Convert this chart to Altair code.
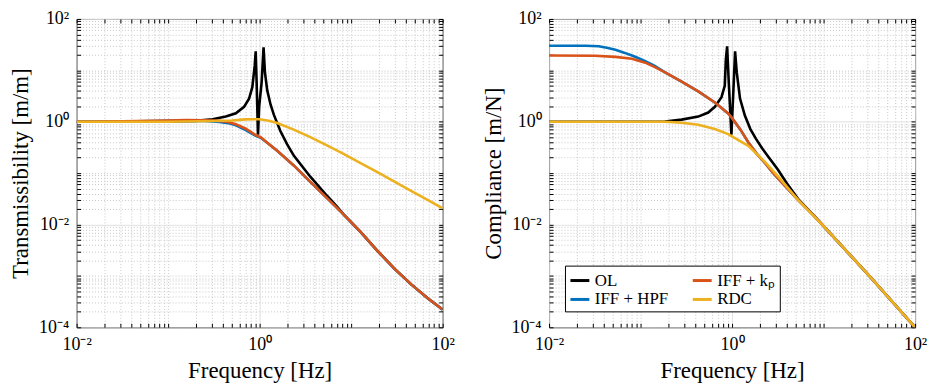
import altair as alt
import pandas as pd

# ---------------- data ----------------
SERIES = ["OL", "IFF + HPF", "IFF + kₚ", "RDC"]          # drawing order
DOMAIN = ["OL", "IFF + HPF", "IFF + kₚ", "RDC"]
COLORS = ["#000000", "#0072BD", "#D95319", "#EDB120"]

# Transmissibility [m/m]
T_OL_F = [0.01, 0.1, 0.2, 0.306, 0.427, 0.55, 0.676, 0.766, 0.832, 0.883, 0.906, 0.927, 0.959, 0.989,
          1.052, 1.104, 1.143, 1.211, 1.318, 1.432, 1.69, 2.0, 2.36, 3.58, 5.445, 7.08, 8.26, 12.59,
          19.82, 30.06, 45.7, 69.2, 100]
T_OL_V = [1.0, 1.01, 1.04, 1.12, 1.26, 1.46, 1.95, 2.8, 4.7, 12.2, 23.4, 5.9, 0.56, 2.0,
          5.9, 28.2, 9.1, 4.07, 2.14, 1.358, 0.653, 0.363, 0.219, 0.0851, 0.0363, 0.0219, 0.0158, 0.00724,
          0.00295, 0.00135, 0.000676, 0.000363, 0.000221]

T_HPF_F = [0.01, 0.0316, 0.1, 0.158, 0.251, 0.363, 0.45, 0.55, 0.705, 0.906, 1.026, 1.259, 1.556, 2.36,
           3.58, 5.445, 8.26, 12.59, 19.82, 30.06, 45.7, 69.2, 100]
T_HPF_V = [1.0, 1.01, 1.04, 1.05, 1.03, 0.99, 0.94, 0.85, 0.69, 0.53, 0.49, 0.37, 0.272, 0.141,
           0.0676, 0.0327, 0.0158, 0.00724, 0.00295, 0.00135, 0.000676, 0.000363, 0.000221]

T_KP_F = [0.01, 0.0316, 0.1, 0.158, 0.251, 0.363, 0.45, 0.55, 0.705, 0.906, 1.026, 1.259, 1.556, 2.36,
          3.58, 5.445, 8.26, 12.59, 19.82, 30.06, 45.7, 69.2, 100]
T_KP_V = [1.0, 1.02, 1.06, 1.08, 1.07, 1.04, 0.99, 0.89, 0.73, 0.55, 0.5, 0.37, 0.272, 0.141,
          0.0676, 0.0327, 0.0158, 0.00724, 0.00295, 0.00135, 0.000676, 0.000363, 0.000221]

T_RDC_F = [0.01, 0.1, 0.316, 0.5, 0.7, 1.0, 1.259, 1.556, 2.36, 3.58, 5.445, 8.26, 12.53, 19.82,
           30.06, 45.7, 69.2, 100]
T_RDC_V = [1.0, 1.0, 1.03, 1.06, 1.11, 1.12, 1.047, 0.942, 0.703, 0.501, 0.347, 0.236, 0.159, 0.102,
           0.0678, 0.0448, 0.0297, 0.0207]

# Compliance [m/N]
C_OL_F = [0.01, 0.1, 0.185, 0.281, 0.427, 0.549, 0.649, 0.766, 0.832, 0.855, 0.883, 0.92, 0.984,
          1.026, 1.079, 1.125, 1.222, 1.38, 1.585, 1.82, 2.138, 2.512, 3.162, 3.981, 5.25, 7.98, 10,
          31.6, 100]
C_OL_V = [1.0, 1.0, 1.01, 1.1, 1.26, 1.51, 1.95, 3.0, 5.0, 16.0, 29.3, 5.9, 0.56,
          3.0, 23.4, 9.1, 2.82, 1.32, 0.72, 0.468, 0.302, 0.204, 0.1175, 0.0631, 0.0316, 0.01445, 0.0093,
          0.001, 0.0001]

C_HPF_F = [0.01, 0.0251, 0.0349, 0.0427, 0.0531, 0.0661, 0.0805, 0.0955, 0.1125, 0.1413, 0.1854,
           0.281, 0.427, 0.649, 0.906, 1.0, 1.23, 1.503, 1.854, 2.286, 2.818, 3.467, 5.25, 7.98, 10,
           31.6, 100]
C_HPF_V = [30.2, 30.06, 29.4, 27.5, 25.1, 22.1, 19.5, 17.2, 15.1, 12.3, 9.12,
           6.03, 3.89, 2.37, 1.45, 1.175, 0.708, 0.398, 0.24, 0.158, 0.1, 0.0668, 0.0302, 0.01445, 0.0093,
           0.001, 0.0001]

C_KP_F = [0.01, 0.0316, 0.0531, 0.0805, 0.1125, 0.1413, 0.1854, 0.281, 0.427, 0.649, 0.906, 1.0,
          1.23, 1.503, 1.854, 2.286, 2.818, 3.467, 5.25, 7.98, 10, 31.6, 100]
C_KP_V = [19.5, 19.3, 18.3, 16.8, 14.1, 11.7, 9.12, 6.03, 3.89, 2.37, 1.45, 1.175,
          0.708, 0.398, 0.24, 0.158, 0.1, 0.0668, 0.0302, 0.01445, 0.0093, 0.001, 0.0001]

C_RDC_F = [0.01, 0.1, 0.185, 0.281, 0.427, 0.649, 0.906, 1.503, 2.286, 3.467, 5.25, 7.98, 10, 31.6, 100]
C_RDC_V = [1.0, 1.0, 1.0, 0.955, 0.871, 0.724, 0.575, 0.339, 0.166, 0.0724, 0.0302, 0.0141, 0.0093,
           0.001, 0.0001]

X_LABELS = {0.01: "10⁻²", 1: "10⁰", 100: "10²"}
Y_LABELS = {0.0001: "10⁻⁴", 0.01: "10⁻²", 1: "10⁰", 100: "10²"}

# ---------------- table ----------------
rows = []
def add(panel, series, fs, vs):
    for k, (f, v) in enumerate(zip(fs, vs)):
        rows.append({"panel": panel, "series": series, "f": f, "v": v, "k": k})

add("T", "OL", T_OL_F, T_OL_V)
add("T", "IFF + HPF", T_HPF_F, T_HPF_V)
add("T", "IFF + kₚ", T_KP_F, T_KP_V)
add("T", "RDC", T_RDC_F, T_RDC_V)
add("C", "OL", C_OL_F, C_OL_V)
add("C", "IFF + HPF", C_HPF_F, C_HPF_V)
add("C", "IFF + kₚ", C_KP_F, C_KP_V)
add("C", "RDC", C_RDC_F, C_RDC_V)
df = pd.DataFrame(rows)

FONT = "Liberation Serif"
TICK_IN = {"expr": "-4"}   # inward ticks

def ticks(lo, hi):
    out = []
    for e in range(lo, hi):
        for m in range(1, 10):
            out.append(float(f"{m}e{e}"))
    out.append(float(f"1e{hi}"))
    return out

def label_expr(d):
    parts = [f"datum.value == {k} ? '{v}'" for k, v in d.items()]
    return " : ".join(parts) + " : ''"

def major_test(d):
    return " || ".join(f"datum.value == {k}" for k in d)

def main_axis(title, values, labels, orient):
    test = major_test(labels)
    return alt.Axis(
        title=title, orient=orient, values=values, labelExpr=label_expr(labels),
        grid=True,
        gridDash={"condition": {"test": test, "value": [1, 0]}, "value": [1, 2]},
        gridColor={"condition": {"test": test, "value": "#dedede"}, "value": "#c8c8c8"},
        gridWidth=1,
        ticks=True, tickSize=TICK_IN, tickColor="black", tickWidth=1,
        domain=False, labelOverlap=False, labelFlush=False, labelBound=False,
        labelFont=FONT, labelFontSize=18, labelColor="black", labelPadding=12,
        titleFont=FONT, titleFontSize=23, titleColor="black", titleFontWeight="normal",
        titlePadding=6,
    )

def mirror_axis(values, orient):
    return alt.Axis(
        title=None, orient=orient, values=values, labels=False, grid=False, domain=False,
        ticks=True, tickSize=TICK_IN, tickColor="black", tickWidth=1,
    )

def panel(pname, ytitle, legend):
    sub = df[df.panel == pname]
    color = alt.Color(
        "series:N",
        scale=alt.Scale(domain=DOMAIN, range=COLORS),
        legend=legend,
    )
    xs = alt.Scale(type="log", domain=[0.01, 100], nice=False)
    ys = alt.Scale(type="log", domain=[0.0001, 100], nice=False)
    layers = []
    n = len(SERIES)
    for i, s in enumerate(SERIES):
        if i == 0:
            xa = main_axis("Frequency [Hz]", ticks(-2, 2), X_LABELS, "bottom")
            ya = main_axis(ytitle, ticks(-4, 2), Y_LABELS, "left")
        elif i == n - 1:
            xa = mirror_axis(ticks(-2, 2), "top")
            ya = mirror_axis(ticks(-4, 2), "right")
        else:
            xa = None
            ya = None
        layers.append(
            alt.Chart(sub[sub.series == s]).mark_line(strokeWidth=2.6, clip=True).encode(
                x=alt.X("f:Q", scale=xs, axis=xa),
                y=alt.Y("v:Q", scale=ys, axis=ya),
                color=color,
                order=alt.Order("k:Q"),
            )
        )
    return alt.layer(*layers).properties(width=368, height=310)

legend = alt.Legend(
    title=None, orient="none", legendX=16, legendY=248, columns=2, values=DOMAIN,
    symbolType="stroke", symbolStrokeWidth=3, symbolSize=361,
    labelFont=FONT, labelFontSize=17, labelColor="black", labelLimit=0, labelOffset=4,
    strokeColor="black", fillColor="white", padding=4, rowPadding=0, columnPadding=18,
    cornerRadius=0,
)

left = panel("T", "Transmissibility [m/m]", None)
right = panel("C", "Compliance [m/N]", legend)

chart = alt.hconcat(left, right, spacing=26).resolve_scale(color="independent").resolve_legend(
    color="independent"
).properties(
    padding={"left": 1, "top": 0, "right": 0, "bottom": 0},
    background="white",
).configure_view(stroke="black", strokeWidth=1)

chart.save("out.html", embed_options={"renderer": "svg", "actions": False})
